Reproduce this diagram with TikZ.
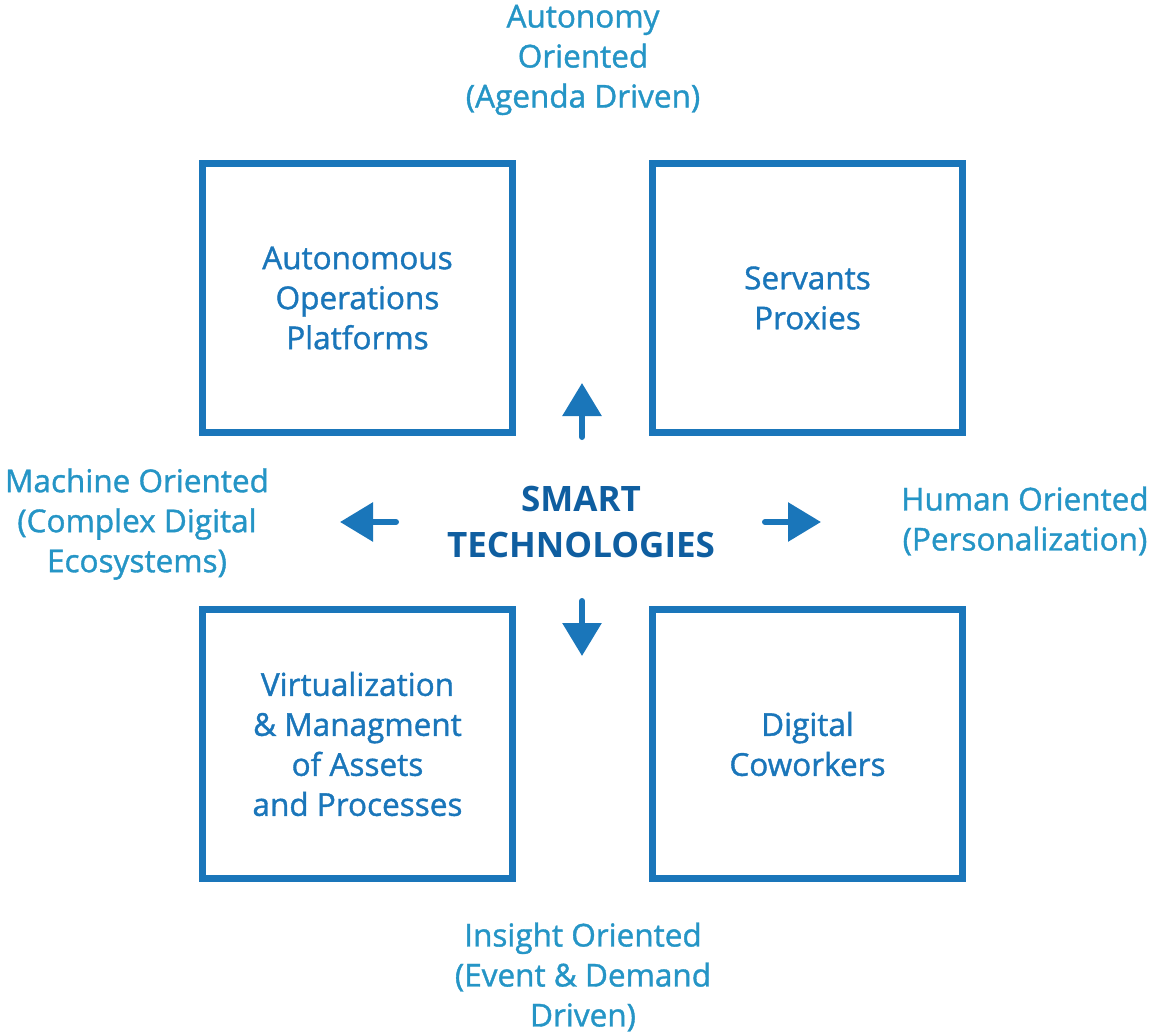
\documentclass[tikz,border=0pt]{standalone}
\usepackage{fontspec}
\setmainfont{Open Sans}
\newfontfamily\semifont[FakeBold=1.2]{Open Sans}
\usetikzlibrary{arrows.meta}
\definecolor{boxblue}{HTML}{1A76BA}
\definecolor{centerblue}{HTML}{0F5EA0}
\definecolor{labelblue}{HTML}{2595C6}
\tikzset{
  quad/.style={draw=boxblue, line width=7pt, minimum width=310pt, minimum height=269pt,
    text=boxblue, align=center, font=\semifont\fontsize{31.5}{40}\selectfont, inner sep=0pt},
  axislabel/.style={text=labelblue, align=center, font=\semifont\fontsize{31.5}{40}\selectfont, inner sep=0pt},
  axisarrow/.style={draw=boxblue, line width=6pt, line cap=round,
    -{Triangle[length=33pt,width=38pt]}},
}
\begin{document}
\begin{tikzpicture}[x=1pt,y=-1pt]
\useasboundingbox (0,0) rectangle (1153,1032);
\node[quad] (tl) at (357.5,298) {Autonomous\\Operations\\Platforms};
\node[quad] (tr) at (807.5,298) {Servants\\Proxies};
\node[quad] (bl) at (357.5,744) {Virtualization\\\& Managment\\of Assets\\and Processes};
\node[quad] (br) at (807.5,744) {Digital\\Coworkers};
\node[text=centerblue, align=center, inner sep=0pt,
  font=\fontsize{35}{46}\selectfont\bfseries] (ctr) at (581,522) {SMART\\TECHNOLOGIES};
\node[axislabel] (top) at (583,60) {Autonomy\\Oriented\\(Agenda Driven)};
\node[axislabel] (left) at (137,524) {Machine Oriented\\(Complex Digital\\Ecosystems)};
\node[axislabel] (right) at (1025,521) {Human Oriented\\(Personalization)};
\node[axislabel] (bottom) at (583,977) {Insight Oriented\\(Event \& Demand\\Driven)};
\coordinate (upA) at (582,437);
\coordinate (upB) at (582,383);
\coordinate (leftA) at (396,522);
\coordinate (leftB) at (340,522);
\coordinate (rightA) at (765,522);
\coordinate (rightB) at (821,522);
\coordinate (downA) at (582,601);
\coordinate (downB) at (582,656);
\draw[axisarrow] (upA) -- (upB);
\draw[axisarrow] (leftA) -- (leftB);
\draw[axisarrow] (rightA) -- (rightB);
\draw[axisarrow] (downA) -- (downB);
\end{tikzpicture}
\end{document}
